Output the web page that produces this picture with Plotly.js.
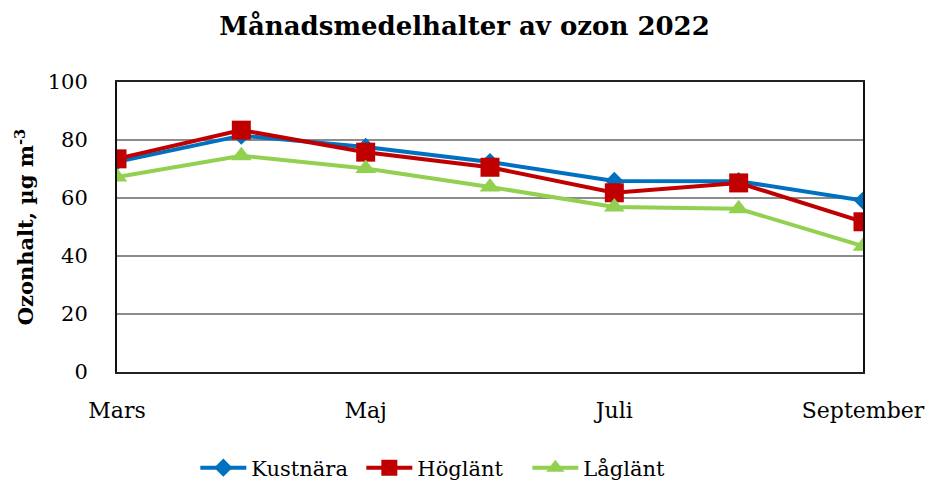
<!DOCTYPE html>
<html>
<head>
<meta charset="utf-8">
<script src="https://cdn.plot.ly/plotly-3.0.1.min.js"></script>
<style>html,body{margin:0;padding:0;background:#fff;}#chart{width:929px;height:482px;}</style>
</head>
<body>
<div id="chart"></div>
<script>
const months = ["Mars", "April", "Maj", "Juni", "Juli", "Augusti", "September"];
const tickMonths = ["Mars", "Maj", "Juli", "September"];
const kustnara = [72.5, 81.5, 77.6, 72.4, 65.9, 65.8, 59.1];
const hoglant = [73.5, 83.4, 75.8, 70.6, 61.8, 65.2, 51.8];
const laglant = [67.2, 74.6, 70.2, 63.8, 56.9, 56.3, 43.4];
const seriesNames = ["Kustnära", "Höglänt", "Låglänt"];

const serif = "DejaVu Serif, serif";
const traces = [
  {x: months, y: kustnara, name: seriesNames[0], mode: "lines+markers",
   line: {color: "#0070C0", width: 4}, marker: {symbol: "diamond", size: 14, color: "#0070C0"}},
  {x: months, y: hoglant, name: seriesNames[1], mode: "lines+markers",
   line: {color: "#C00000", width: 4}, marker: {symbol: "square", size: 19, color: "#C00000"}},
  {x: months, y: laglant, name: seriesNames[2], mode: "lines+markers",
   line: {color: "#92D050", width: 4}, marker: {symbol: "triangle-up", size: 18, color: "#92D050"}}
];
const layout = {
  width: 929, height: 482,
  margin: {l: 117, r: 66, t: 82, b: 110, autoexpand: false},
  paper_bgcolor: "#fff", plot_bgcolor: "#fff",
  font: {family: serif, size: 20, color: "#000"},
  title: {text: "<b>Månadsmedelhalter av ozon 2022</b>", font: {family: serif, size: 26, color: "#000"},
          x: 0.5, xanchor: "center", y: 0.947, yanchor: "middle"},
  showlegend: true,
  legend: {orientation: "h", x: 0.105, xanchor: "left", y: -0.331, yanchor: "middle",
           font: {family: serif, size: 21}, itemwidth: 46, entrywidth: 105, tracegroupgap: 0},
  xaxis: {type: "category", categoryorder: "array", categoryarray: months,
          range: [0, 6], tickvals: tickMonths, ticktext: tickMonths,
          showgrid: false, zeroline: false, showline: true, mirror: true,
          linecolor: "#222", linewidth: 2, ticks: "", ticklabelstandoff: 18,
          tickfont: {family: serif, size: 22}},
  yaxis: {range: [0, 100], dtick: 20, showgrid: true, gridcolor: "#8c8c8c", gridwidth: 2,
          zeroline: false, showline: true, mirror: true, linecolor: "#111", linewidth: 2,
          ticks: "", ticklabelstandoff: 23, tickfont: {family: serif, size: 21},
          title: {text: "<b>Ozonhalt, µg m<sup>-3</sup></b>", font: {family: serif, size: 21}, standoff: 8}}
};
Plotly.newPlot("chart", traces, layout, {displayModeBar: false, staticPlot: true});
</script>
</body>
</html>
